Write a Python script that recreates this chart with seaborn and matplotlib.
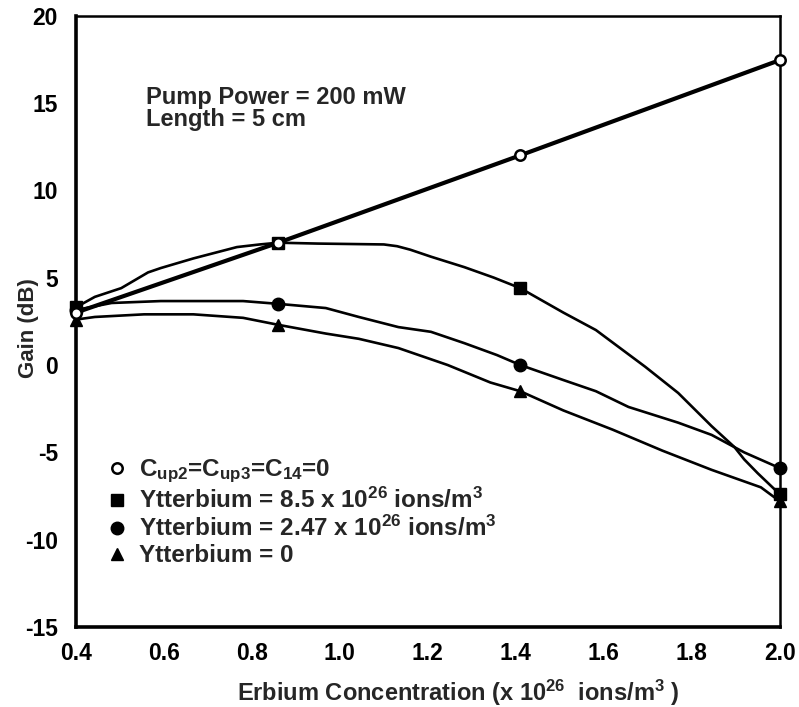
import matplotlib
matplotlib.use('Agg')
import matplotlib.pyplot as plt
import seaborn as sns
from matplotlib.ticker import MultipleLocator, FormatStrFormatter

sns.set_theme(style='white')
plt.rcParams['font.family'] = ['Liberation Sans', 'DejaVu Sans']
plt.rcParams['font.weight'] = 'bold'
plt.rcParams['axes.unicode_minus'] = False
plt.rcParams['mathtext.fontset'] = 'custom'
plt.rcParams['mathtext.rm'] = 'Liberation Sans:bold'
plt.rcParams['mathtext.it'] = 'Liberation Sans:bold'
plt.rcParams['mathtext.bf'] = 'Liberation Sans:bold'
plt.rcParams['mathtext.default'] = 'rm'

# ---- data ----
er_pts = [0.40, 0.86, 1.41, 2.00]
gain_noupc = [3.0, 7.0, 12.0, 17.45]
gain_yb85_pts = [3.3, 7.0, 4.4, -7.4]
gain_yb247_pts = [3.15, 3.5, 0.0, -5.9]
gain_yb0_pts = [2.6, 2.3, -1.5, -7.8]

yb85_x = [0.40, 0.443, 0.503, 0.564, 0.593, 0.667, 0.766, 0.818, 0.86, 0.95, 1.10, 1.13,
          1.16, 1.207, 1.283, 1.35, 1.41, 1.508, 1.582, 1.694, 1.769, 1.845, 1.897, 1.919, 1.95, 2.0]
yb85_y = [3.3, 3.9, 4.4, 5.3, 5.55, 6.1, 6.75, 6.9, 7.0, 6.95, 6.9, 6.8,
          6.6, 6.2, 5.6, 5.0, 4.4, 3.0, 2.0, -0.1, -1.6, -3.5, -4.7, -5.4, -6.2, -7.4]

yb247_x = [0.40, 0.481, 0.593, 0.78, 0.86, 0.968, 1.043, 1.133, 1.207, 1.283, 1.357, 1.41,
           1.508, 1.582, 1.656, 1.769, 1.845, 1.919, 2.0]
yb247_y = [3.15, 3.55, 3.66, 3.66, 3.5, 3.26, 2.75, 2.17, 1.9, 1.25, 0.57, 0.0,
           -0.86, -1.5, -2.4, -3.3, -4.0, -5.0, -5.9]

yb0_x = [0.40, 0.443, 0.555, 0.667, 0.78, 0.86, 0.968, 1.043, 1.133, 1.245, 1.342, 1.41,
         1.508, 1.62, 1.733, 1.845, 1.957, 2.0]
yb0_y = [2.6, 2.75, 2.9, 2.9, 2.7, 2.3, 1.8, 1.5, 0.97, 0.0, -1.0, -1.5,
         -2.6, -3.7, -4.9, -6.0, -7.0, -7.8]

labels = [r'C$_{\rm up2}$=C$_{\rm up3}$=C$_{14}$=0',
          r'Ytterbium = 8.5 x 10$^{26}$ ions/m$^3$',
          r'Ytterbium = 2.47 x 10$^{26}$ ions/m$^3$',
          'Ytterbium = 0']

fig, ax = plt.subplots(figsize=(7.99, 7.07), dpi=100)
fig.subplots_adjust(left=0.095, right=0.976, top=0.978, bottom=0.113)

lw = 1.9
sns.lineplot(x=er_pts, y=gain_noupc, ax=ax, color='black', lw=3.0, sort=False, estimator=None, clip_on=False)
sns.lineplot(x=yb85_x, y=yb85_y, ax=ax, color='black', lw=lw, sort=False, estimator=None, clip_on=False)
sns.lineplot(x=yb247_x, y=yb247_y, ax=ax, color='black', lw=lw, sort=False, estimator=None, clip_on=False)
sns.lineplot(x=yb0_x, y=yb0_y, ax=ax, color='black', lw=lw, sort=False, estimator=None, clip_on=False)

ax.plot(er_pts, gain_yb85_pts, ls='none', marker='s', ms=9, color='black', clip_on=False, label=labels[1], zorder=5)
ax.plot(er_pts, gain_yb247_pts, ls='none', marker='o', ms=9, color='black', clip_on=False, label=labels[2], zorder=5)
ax.plot(er_pts, gain_yb0_pts, ls='none', marker='^', ms=9, color='black', clip_on=False, label=labels[3], zorder=5)
ax.plot(er_pts, gain_noupc, ls='none', marker='o', ms=7.5, mfc='white', mec='black', mew=1.8,
        clip_on=False, label=labels[0], zorder=6)

ax.set_xlim(0.4, 2.0)
ax.set_ylim(-15, 20)
ax.xaxis.set_major_locator(MultipleLocator(0.2))
ax.xaxis.set_minor_locator(MultipleLocator(0.1))
ax.xaxis.set_major_formatter(FormatStrFormatter('%.1f'))
ax.yaxis.set_major_locator(MultipleLocator(5))
ax.yaxis.set_minor_locator(MultipleLocator(1))

ax.tick_params(axis='both', which='major', direction='in', length=9, width=2.2,
               labelsize=16.5, colors='black')
ax.tick_params(axis='both', which='minor', direction='in', length=5, width=2.0, colors='black')
ax.tick_params(axis='y', which='major', pad=13)
ax.tick_params(axis='x', which='major', pad=11)
ax.tick_params(top=False, right=False, which='both')

for side in ['left', 'bottom']:
    ax.spines[side].set_linewidth(2.6)
for side in ['top', 'right']:
    ax.spines[side].set_linewidth(1.8)
for s in ax.spines.values():
    s.set_color('black')

ax.set_xlabel(r'Erbium Concentration (x 10$^{26}$  ions/m$^3$ )', fontsize=17, fontweight='bold')
ax.set_ylabel('Gain (dB)', fontsize=16, fontweight='bold')
ax.xaxis.set_label_coords(0.543, -0.083)
ax.yaxis.set_label_coords(-0.052, 0.489)

ax.text(0.10, 0.866, 'Pump Power = 200 mW', transform=ax.transAxes, fontsize=17,
        fontweight='bold', va='center', ha='left')
ax.text(0.10, 0.830, 'Length = 5 cm', transform=ax.transAxes, fontsize=17,
        fontweight='bold', va='center', ha='left')

handles, lbls = ax.get_legend_handles_labels()
order = [3, 0, 1, 2]
leg = ax.legend([handles[i] for i in order], [lbls[i] for i in order],
                loc='upper left', bbox_to_anchor=(0.027, 0.293), frameon=False,
                fontsize=17.5, handlelength=1.0, handletextpad=0.4, labelspacing=0.12,
                borderaxespad=0)

fig.savefig('out.png', dpi=100)
